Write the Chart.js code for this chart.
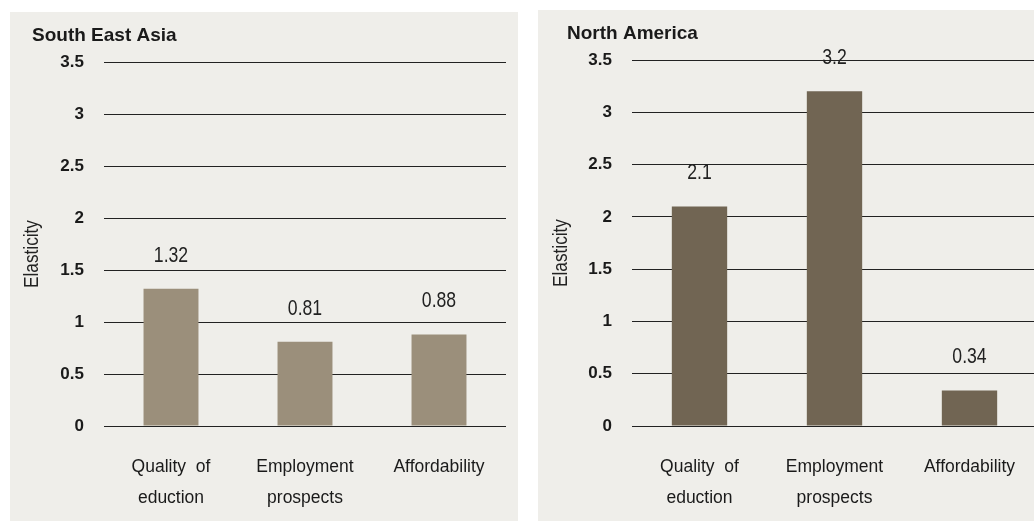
<!DOCTYPE html>
<html>
<head>
<meta charset="utf-8">
<script src="https://cdn.jsdelivr.net/npm/chart.js@4.4.0/dist/chart.umd.min.js"></script>
<style>
  html, body { margin: 0; padding: 0; background: #fff; width: 1034px; height: 521px; overflow: hidden; }
  .panel { position: absolute; background: #efeeea; }
  #p1 { left: 10px; top: 12px; width: 508px; height: 509px; }
  #p2 { left: 538px; top: 10px; width: 510px; height: 511px; }
  canvas { display: block; }
</style>
</head>
<body>
<div class="panel" id="p1"><canvas id="c1" width="508" height="509"></canvas></div>
<div class="panel" id="p2"><canvas id="c2" width="510" height="511"></canvas></div>
<script>
// Drivers of study-destination choice, elasticity by region
const categories = [["Quality  of", "eduction"], ["Employment", "prospects"], ["Affordability"]];
const southEastAsia = [1.32, 0.81, 0.88];
const northAmerica = [2.1, 3.2, 0.34];
const yTicks = [0, 0.5, 1, 1.5, 2, 2.5, 3, 3.5];
const yTickLabels = ["0", "0.5", "1", "1.5", "2", "2.5", "3", "3.5"];
const axisTitle = "Elasticity";

const FONT = '"Liberation Sans", Arial, sans-serif';
const NARROW = 0.82; // horizontal squeeze for a condensed look

// Panel heading and rotated axis title
const panelText = {
  id: 'panelText',
  afterDraw(chart, args, opts) {
    const ctx = chart.ctx;
    ctx.save();
    ctx.fillStyle = '#1a1a1a';
    ctx.font = 'bold 19px ' + FONT;
    ctx.textAlign = 'left';
    ctx.textBaseline = 'alphabetic';
    ctx.fillText(opts.title, opts.titleX, opts.titleY);
    ctx.translate(opts.axisX, opts.axisY);
    ctx.rotate(-Math.PI / 2);
    ctx.scale(NARROW, 1);
    ctx.font = '21px ' + FONT;
    ctx.fillStyle = '#222';
    ctx.textAlign = 'center';
    ctx.fillText(axisTitle, 0, 0);
    ctx.restore();
  }
};

// Value written above each bar
const valueLabels = {
  id: 'valueLabels',
  afterDatasetsDraw(chart) {
    const ctx = chart.ctx;
    ctx.save();
    ctx.font = '21.5px ' + FONT;
    ctx.fillStyle = '#222';
    ctx.textAlign = 'center';
    ctx.textBaseline = 'alphabetic';
    chart.data.datasets.forEach((ds, i) => {
      chart.getDatasetMeta(i).data.forEach((bar, j) => {
        ctx.save();
        ctx.translate(bar.x, bar.y - 27);
        ctx.scale(NARROW, 1);
        ctx.fillText(String(ds.data[j]), 0, 0);
        ctx.restore();
      });
    });
    ctx.restore();
  }
};

function makeChart(id, name, values, color, g) {
  return new Chart(document.getElementById(id), {
    type: 'bar',
    data: {
      labels: categories,
      datasets: [{
        label: name,
        data: values,
        backgroundColor: color,
        barPercentage: 0.41,
        categoryPercentage: 1
      }]
    },
    options: {
      responsive: false,
      animation: false,
      devicePixelRatio: 1,
      layout: { padding: { left: 0, right: g.padRight, top: 50, bottom: 0 } },
      plugins: {
        legend: { display: false },
        tooltip: { enabled: false },
        panelText: { title: name, titleX: g.titleX, titleY: 29, axisX: g.axisX, axisY: g.axisY }
      },
      scales: {
        x: {
          grid: { display: false },
          border: { display: false },
          ticks: {
            color: '#1a1a1a',
            font: { family: FONT, size: 17.5, lineHeight: 1.8 },
            padding: 17,
            maxRotation: 0,
            autoSkip: false
          },
          afterFit(s) { s.height = 95; }
        },
        y: {
          min: 0,
          max: 3.5,
          grid: { color: '#222', lineWidth: 1, drawTicks: false },
          border: { display: false },
          ticks: {
            color: '#1a1a1a',
            padding: 20,
            font: { family: FONT, size: 17, weight: 'bold' },
            callback: (v, i) => yTickLabels[i]
          },
          afterBuildTicks(s) { s.ticks = yTicks.map(v => ({ value: v })); },
          afterFit(s) { s.width = 94; }
        }
      }
    },
    plugins: [panelText, valueLabels]
  });
}

makeChart('c1', 'South East Asia', southEastAsia, '#9b8f7b',
  { padRight: 12, titleX: 22, axisX: 28, axisY: 242 });
makeChart('c2', 'North America', northAmerica, '#716553',
  { padRight: 11, titleX: 29, axisX: 29, axisY: 243 });
</script>
</body>
</html>
